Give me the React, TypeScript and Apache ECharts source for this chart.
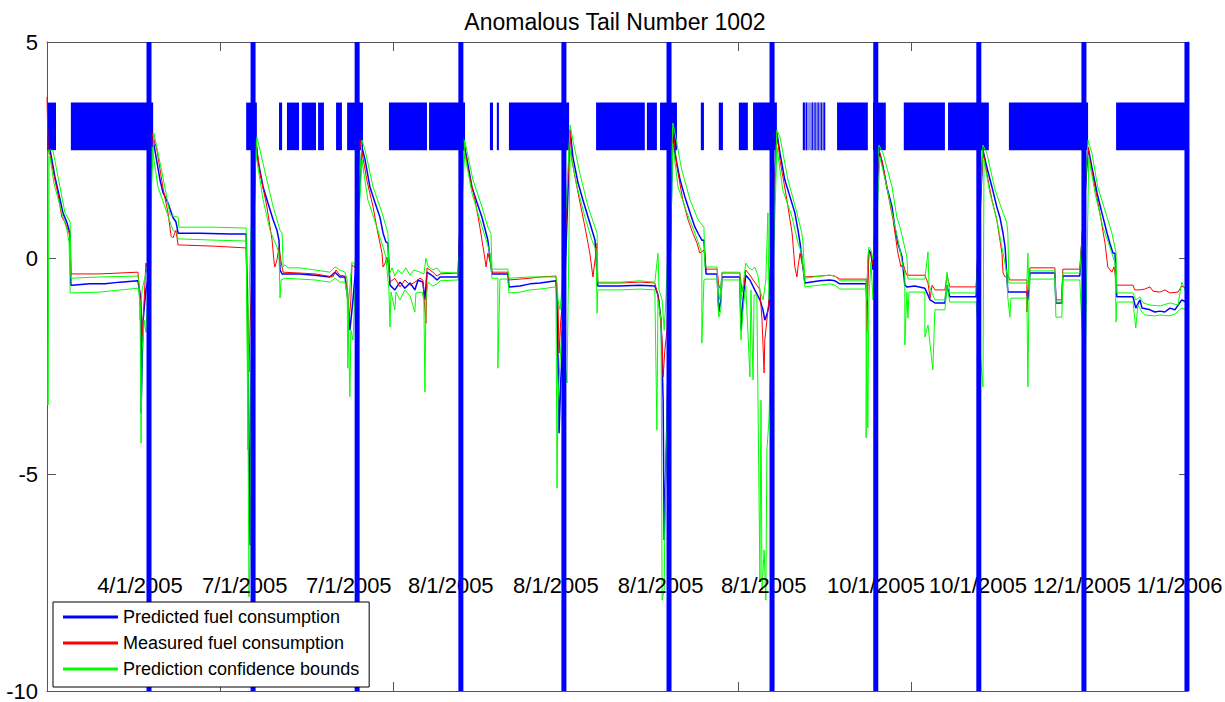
import React, { useEffect, useRef } from "react";
import * as echarts from "echarts";

const FONT = "'Liberation Sans', Arial, Helvetica, sans-serif";

const titleText = "Anomalous Tail Number 1002";
const seriesNames = ["Predicted fuel consumption", "Measured fuel consumption", "Prediction confidence bounds"];

const yTicks = { min: -10, max: 5, step: 5 };
const xRange = { min: 0, max: 3300, step: 500 };

// flight boundaries (sample index)
const boundaries = [295, 596, 897, 1197, 1495, 1799, 2097, 2397, 2695, 2999, 3297];

const dateLabels = ["4/1/2005", "7/1/2005", "7/1/2005", "8/1/2005", "8/1/2005", "8/1/2005", "8/1/2005", "10/1/2005", "10/1/2005", "12/1/2005", "1/1/2006"];
const dateLabelX = [145, 448, 749, 1044, 1348, 1651, 1949, 2256, 2551, 2852, 3152];
const dateLabelY = -7.56;

const anomalyBand = [2.5, 3.6];
const anomalySpans = [
  [0, 26], [69, 307], [576, 607], [671, 680], [694, 729], [737, 778], [784, 801], [836, 853], [868, 914],
  [989, 1099], [1105, 1209], [1281, 1290], [1301, 1307], [1336, 1510], [1588, 1729], [1735, 1764], [1773, 1822],
  [1891, 1900], [1943, 1955], [2001, 2027], [2042, 2111], [2285, 2374], [2389, 2426], [2478, 2597], [2606, 2724],
  [2782, 3011], [3092, 3300],
];
const faintSpans = [[2186, 2252]];
const stripeSpans = [[2186, 2192], [2195, 2198], [2212, 2215], [2220, 2223], [2229, 2232], [2238, 2241], [2246, 2250]];

const predicted = [
  [3, 2.5], [9, 2.5], [23, 1.88], [38, 1.35], [46, 1.05], [58, 0.82], [64, 0.65], [67, 0.58], [69, -0.62], [72, -0.62], [124, -0.59], [168, -0.59], [211, -0.55], [263, -0.52], [272, -0.96], [272, -3.58], [278, -1.43], [286, -0.73], [292, -0.5],
  [304, 2.8], [307, 2.73], [327, 1.81], [335, 1.53], [350, 1.28], [364, 0.95], [373, 0.84], [376, 0.72], [379, 0.58], [442, 0.58], [529, 0.56], [576, 0.56], [581, -1.66], [587, -6.63], [590, -3.28], [593, -0.96],
  [604, 2.73], [610, 2.27], [625, 1.65], [639, 1.28], [654, 0.89], [665, 0.65], [671, 0.42], [674, -0.27], [680, -0.36], [732, -0.36], [775, -0.39], [818, -0.43], [833, -0.32], [847, -0.43], [862, -0.43], [870, -0.96], [876, -1.66], [885, -0.96], [891, -0.39],
  [911, 2.57], [920, 2.27], [934, 1.65], [949, 1.28], [963, 0.95], [972, 0.58], [980, 0.38], [986, 0.35], [992, -0.62], [1006, -0.73], [1021, -0.55], [1035, -0.69], [1050, -0.57], [1064, -0.73], [1073, -0.5], [1087, -0.55], [1093, -0.96], [1099, -0.32], [1116, -0.41], [1128, -0.5], [1137, -0.43], [1189, -0.43],
  [1203, 2.8], [1215, 2.27], [1229, 1.65], [1244, 1.28], [1258, 0.95], [1270, 0.58], [1275, 0.42], [1287, -0.36], [1333, -0.36], [1336, -0.66], [1368, -0.64], [1397, -0.59], [1426, -0.57], [1472, -0.52], [1475, -0.96], [1478, -2.35], [1481, -4.04], [1486, -2.81], [1492, -1.89],
  [1513, 2.97], [1521, 2.34], [1536, 1.74], [1550, 1.35], [1565, 0.95], [1579, 0.58], [1585, 0.42], [1593, -0.64], [1657, -0.64], [1715, -0.62], [1758, -0.64], [1767, -0.85], [1776, -1.43], [1782, -3.28], [1785, -6.51], [1787, -5.82], [1793, -3.74],
  [1810, 3.03], [1816, 2.43], [1831, 1.81], [1845, 1.42], [1860, 1.05], [1874, 0.72], [1883, 0.58], [1894, 0.42], [1900, 0.42], [1906, -0.36], [1938, -0.36], [1943, -1.24], [1949, -0.96], [1952, -0.43], [2004, -0.43], [2007, -1.66], [2013, -0.96], [2021, -0.39], [2033, -0.5], [2047, -0.73], [2062, -0.96], [2071, -1.2], [2076, -1.43], [2082, -1.3], [2088, -1.1],
  [2111, 2.9], [2120, 2.43], [2134, 1.81], [2149, 1.42], [2163, 1.05], [2172, 0.65], [2178, 0.35], [2192, -0.57], [2235, -0.52], [2264, -0.5], [2279, -0.52], [2293, -0.59], [2322, -0.59], [2369, -0.59], [2371, -0.96], [2374, -0.27], [2377, 0.19], [2383, 0.12], [2389, -0.27],
  [2406, 2.5], [2418, 2.11], [2429, 1.65], [2444, 1.19], [2452, 0.72], [2461, 0.35], [2473, 0.03], [2481, -0.62], [2487, -0.66], [2510, -0.64], [2539, -0.69], [2548, -0.85], [2554, -0.96], [2568, -1.03], [2597, -1.03], [2603, -0.62], [2611, -0.89], [2640, -0.89], [2687, -0.89],
  [2707, 2.5], [2718, 2.11], [2733, 1.65], [2747, 1.19], [2756, 0.95], [2765, 0.58], [2771, 0.26], [2779, -0.78], [2834, -0.78], [2837, -0.96], [2843, -0.34], [2915, -0.34], [2918, -1.03], [2935, -1.03], [2938, -0.41], [2987, -0.41],
  [3011, 2.57], [3022, 2.11], [3037, 1.51], [3051, 1.05], [3066, 0.58], [3074, 0.35], [3083, 0.12], [3089, 0.12], [3094, -0.89], [3141, -0.89], [3149, -1.15], [3161, -0.96], [3167, -1.15], [3190, -1.19], [3204, -1.24], [3219, -1.22], [3233, -1.24], [3248, -1.15], [3262, -1.19], [3282, -0.96], [3294, -1.01],
];

const measured = [
  [0, 3.73], [3, 2.5], [9, 2.39], [23, 1.81], [32, 1.47], [43, 0.95], [52, 0.84], [64, 0.58], [67, 0.47], [69, -0.36], [153, -0.36], [263, -0.32], [269, -0.85], [275, -1.84], [281, -0.96], [286, -0.11], [292, -0.27],
  [304, 2.9], [318, 2.5], [335, 1.65], [350, 1.05], [359, 0.51], [364, 0.47], [373, 0.65], [379, 0.31], [486, 0.28], [576, 0.24], [578, -0.73], [581, -1.19], [584, -2.63], [587, -1.66],
  [604, 2.73], [616, 1.97], [636, 1.19], [651, 0.42], [657, -0.11], [659, -0.2], [665, -0.04], [671, 0.26], [677, -0.08], [683, -0.32], [732, -0.34], [775, -0.36], [827, -0.43], [836, -0.27], [847, -0.39], [862, -0.41], [870, -0.8], [873, -1.47], [879, -0.96], [882, -0.15], [891, -0.22],
  [905, 2.73], [925, 1.81], [943, 1.19], [957, 0.58], [969, 0.12], [972, -0.2], [978, -0.11], [983, 0.03], [989, -0.27], [992, -0.55], [1006, -0.46], [1021, -0.66], [1035, -0.5], [1050, -0.62], [1064, -0.55], [1079, -0.46], [1087, -0.5], [1093, -1.19], [1096, -1.5], [1099, -0.22], [1116, -0.32], [1128, -0.41], [1137, -0.36], [1189, -0.34],
  [1203, 2.8], [1218, 2.04], [1238, 1.35], [1252, 0.72], [1264, 0.12], [1270, -0.2], [1275, 0.12], [1284, -0.15], [1287, -0.32], [1333, -0.32], [1336, -0.5], [1368, -0.48], [1397, -0.46], [1426, -0.43], [1472, -0.41], [1478, -1.08], [1481, -2.19], [1486, -1.43], [1492, -0.96],
  [1513, 2.97], [1518, 2.27], [1536, 1.51], [1556, 0.72], [1570, 0.12], [1579, -0.43], [1585, -0.04], [1591, 0.35], [1593, -0.57], [1657, -0.57], [1715, -0.55], [1758, -0.57], [1770, -0.96], [1779, -1.89], [1782, -2.74], [1787, -2.12], [1793, -1.66],
  [1810, 3.03], [1822, 2.11], [1839, 1.35], [1854, 0.89], [1868, 0.58], [1880, 0.35], [1888, 0.12], [1900, 0.19], [1906, -0.25], [1938, -0.25], [1943, -0.62], [1949, -0.73], [1952, -0.34], [2004, -0.34], [2010, -0.78], [2016, -0.62], [2021, -0.27], [2033, -0.39], [2047, -0.55], [2053, -0.62], [2062, -0.73], [2068, -1.43], [2074, -2.65], [2076, -1.89], [2082, -1.43], [2088, -0.96],
  [2111, 2.9], [2120, 2.27], [2140, 1.35], [2155, 0.58], [2163, -0.2], [2169, -0.43], [2172, -0.2], [2178, 0.12], [2192, -0.43], [2235, -0.41], [2264, -0.39], [2279, -0.41], [2293, -0.48], [2369, -0.48], [2371, -1.26], [2371, -1.73], [2374, -0.73], [2377, 0.15], [2383, 0.08], [2389, -0.15],
  [2406, 2.5], [2415, 2.27], [2432, 1.51], [2447, 0.89], [2461, 0.12], [2470, -0.2], [2476, -0.11], [2481, -0.27], [2487, -0.39], [2539, -0.39], [2548, -0.57], [2554, -0.92], [2560, -0.62], [2568, -0.73], [2597, -0.73], [2603, -0.39], [2611, -0.66], [2687, -0.66],
  [2707, 2.5], [2718, 1.97], [2733, 1.35], [2747, 0.89], [2762, 0.12], [2765, -0.34], [2771, -0.43], [2779, -0.39], [2785, -0.5], [2834, -0.5], [2834, -1.24], [2837, -0.73], [2843, -0.22], [2915, -0.22], [2918, -0.96], [2935, -0.96], [2938, -0.25], [2987, -0.25],
  [3011, 2.57], [3016, 2.27], [3031, 1.65], [3045, 1.05], [3060, 0.35], [3068, -0.2], [3080, -0.32], [3086, -0.2], [3094, -0.62], [3141, -0.62], [3146, -0.73], [3161, -0.73], [3175, -0.71], [3190, -0.66], [3199, -0.76], [3219, -0.78], [3233, -0.73], [3248, -0.8], [3271, -0.78], [3282, -0.64], [3294, -0.69],
];

const upperBound = [
  [3, 2.5], [17, 2.5], [32, 1.88], [52, 1.05], [67, 0.84], [69, -0.46], [153, -0.43], [263, -0.41], [266, -0.57], [269, -1.43], [275, -0.73], [286, -0.34], [292, -0.15],
  [309, 2.9], [333, 1.97], [356, 1.0], [379, 0.95], [382, 0.72], [486, 0.72], [576, 0.7], [578, -0.96], [581, -4.43], [584, -0.96], [590, 0.65],
  [607, 2.8], [616, 2.5], [636, 1.81], [654, 1.19], [674, 0.65], [680, 0.58], [683, -0.2], [688, -0.15], [697, -0.22], [732, -0.22], [775, -0.27], [818, -0.32], [833, -0.2], [847, -0.27], [862, -0.32], [868, -0.5], [870, -2.54], [873, -0.96], [882, -0.08], [891, -0.15],
  [911, 2.73], [920, 2.5], [943, 1.65], [969, 1.05], [986, 0.58], [989, -0.39], [998, -0.22], [1006, -0.41], [1015, -0.27], [1027, -0.36], [1038, -0.22], [1050, -0.39], [1061, -0.27], [1079, -0.32], [1090, -0.36], [1096, 0.0], [1102, -0.18], [1116, -0.27], [1128, -0.22], [1137, -0.32], [1189, -0.34],
  [1208, 2.73], [1232, 1.81], [1258, 1.19], [1275, 0.72], [1284, 0.58], [1287, -0.25], [1333, -0.25], [1336, -0.46], [1397, -0.43], [1472, -0.43], [1475, -0.57], [1478, -0.96], [1484, -1.19], [1489, -0.73],
  [1513, 3.08], [1521, 2.73], [1541, 1.97], [1565, 1.19], [1585, 0.72], [1591, 0.58], [1593, -0.55], [1657, -0.55], [1715, -0.52], [1758, -0.55], [1764, -0.11], [1767, 0.12], [1770, -0.73], [1779, -0.96], [1785, -1.66], [1790, -0.96],
  [1810, 3.13], [1816, 2.9], [1836, 2.04], [1860, 1.35], [1883, 0.89], [1900, 0.72], [1903, -0.2], [1938, -0.2], [1941, -0.73], [1946, -0.96], [1952, -0.32], [2004, -0.32], [2007, -0.96], [2013, -0.62], [2021, -0.11], [2030, -0.22], [2039, -0.27], [2047, -0.2], [2056, -0.39], [2062, -0.73], [2071, -0.96], [2079, -0.5], [2085, 1.05], [2088, -0.96], [2094, -0.73],
  [2111, 2.97], [2120, 2.8], [2143, 1.81], [2169, 1.05], [2183, 0.58], [2186, 0.42], [2192, -0.46], [2235, -0.41], [2264, -0.39], [2279, -0.41], [2293, -0.52], [2369, -0.52], [2371, -0.96], [2374, -0.04], [2377, 0.26], [2383, 0.19], [2389, -0.04],
  [2406, 2.62], [2418, 2.43], [2444, 1.65], [2458, 0.95], [2467, 0.72], [2476, 0.42], [2487, 0.03], [2490, -0.48], [2539, -0.48], [2548, 0.15], [2551, -0.62], [2568, -0.96], [2597, -0.96], [2603, -0.32], [2611, -0.8], [2687, -0.8],
  [2707, 2.62], [2718, 2.43], [2742, 1.58], [2762, 1.12], [2776, 0.82], [2779, 0.58], [2782, -0.57], [2834, -0.57], [2837, 0.12], [2840, -0.73], [2843, -0.29], [2915, -0.29], [2918, -1.01], [2935, -1.01], [2938, -0.34], [2987, -0.34],
  [3011, 2.73], [3022, 2.43], [3039, 1.65], [3066, 0.95], [3080, 0.58], [3092, 0.12], [3094, -0.8], [3141, -0.8], [3149, -0.96], [3161, -0.89], [3170, -1.03], [3190, -1.08], [3219, -1.1], [3248, -1.03], [3271, -1.08], [3282, -0.55], [3294, -0.78],
];

const lowerBound = [
  [3, 2.5], [3, -3.39], [6, 2.34], [9, 2.34], [20, 1.74], [43, 1.05], [58, 0.65], [64, 0.35], [67, -0.8], [153, -0.78], [263, -0.69], [269, -0.96], [272, -4.27], [275, -2.12], [281, -1.43], [286, -1.71], [292, -0.73],
  [298, -1.66], [304, 2.57], [321, 1.65], [347, 1.05], [364, 0.65], [376, 0.58], [379, 0.45], [486, 0.42], [576, 0.4], [581, -3.28], [584, -7.83], [587, -6.97], [590, -3.28], [593, -0.96],
  [604, 2.5], [607, 2.27], [625, 1.35], [645, 0.65], [665, 0.26], [671, 0.12], [674, -0.92], [677, -0.5], [688, -0.46], [732, -0.48], [775, -0.5], [818, -0.55], [833, -0.46], [847, -0.55], [862, -0.55], [870, -0.96], [876, -3.2], [879, -1.66], [885, -1.89], [891, -0.73],
  [911, 2.27], [928, 1.35], [954, 0.72], [972, 0.26], [980, 0.03], [989, -0.73], [992, -1.59], [995, -0.78], [1006, -1.19], [1009, -0.78], [1021, -0.96], [1035, -0.73], [1050, -0.87], [1064, -1.24], [1067, -0.8], [1085, -0.78], [1090, -0.96], [1093, -3.09], [1096, -0.96], [1102, -0.55], [1116, -0.64], [1128, -0.59], [1137, -0.52], [1189, -0.5],
  [1208, 2.43], [1229, 1.51], [1252, 0.89], [1273, 0.35], [1281, 0.12], [1287, -0.46], [1304, -0.46], [1304, -2.54], [1310, -0.48], [1333, -0.48], [1336, -0.8], [1368, -0.78], [1397, -0.73], [1426, -0.71], [1472, -0.66], [1475, -5.31], [1478, -3.28], [1484, -2.35], [1489, -1.66],
  [1504, -2.88], [1513, 2.5], [1533, 1.65], [1556, 0.95], [1576, 0.42], [1588, 0.19], [1591, -1.27], [1593, -0.73], [1657, -0.73], [1715, -0.71], [1758, -0.73], [1764, -3.97], [1767, -0.96], [1776, -1.43], [1779, -7.9], [1785, -7.67], [1787, -6.05], [1793, -3.74],
  [1810, 2.66], [1825, 1.65], [1851, 1.05], [1874, 0.58], [1894, 0.12], [1894, -1.96], [1900, -0.5], [1906, -0.48], [1938, -0.48], [1943, -1.36], [1949, -1.19], [1952, -0.5], [2004, -0.5], [2007, -1.89], [2013, -1.19], [2021, -0.62], [2033, -2.74], [2036, -0.73], [2042, -2.81], [2045, -0.85], [2053, -0.85], [2062, -7.44], [2065, -3.28], [2068, -7.67], [2074, -6.74], [2079, -7.9], [2082, -4.43], [2088, -3.74], [2094, -2.12],
  [2111, 2.57], [2128, 1.58], [2155, 0.95], [2172, 0.35], [2183, 0.12], [2192, -0.66], [2235, -0.62], [2264, -0.59], [2279, -0.62], [2293, -0.71], [2369, -0.71], [2369, -4.15], [2371, -1.66], [2374, -3.92], [2377, -0.96], [2383, -0.08], [2389, -0.96],
  [2409, 2.34], [2429, 1.65], [2447, 0.95], [2467, 0.19], [2476, -0.2], [2481, -0.34], [2481, -2.0], [2487, -0.78], [2490, -1.38], [2493, -0.78], [2539, -0.78], [2539, -1.82], [2548, -1.54], [2562, -2.58], [2568, -1.19], [2597, -1.19], [2603, -0.62], [2611, -1.01], [2687, -1.01],
  [2707, -2.97], [2710, 2.27], [2727, 1.51], [2747, 0.89], [2765, 0.12], [2776, -0.34], [2779, -0.92], [2785, -1.36], [2788, -0.92], [2834, -0.92], [2837, -2.97], [2840, -0.96], [2843, -0.48], [2915, -0.48], [2918, -1.36], [2935, -1.36], [2938, -0.5], [2987, -0.5],
  [3002, -2.97], [3013, 2.34], [3031, 1.51], [3054, 0.72], [3074, 0.26], [3089, -0.11], [3092, -1.47], [3094, -1.01], [3141, -1.01], [3149, -1.61], [3155, -1.08], [3167, -1.24], [3175, -1.31], [3204, -1.33], [3219, -1.31], [3248, -1.33], [3262, -1.29], [3282, -1.15], [3294, -1.19],
];

const BLUE = "#0000ff";
const RED = "#ff0000";
const GREEN = "#00ff00";
const AXIS = "#555555";

export default function App() {
  const ref = useRef<HTMLDivElement>(null);

  useEffect(() => {
    if (!ref.current) return;
    const chart = echarts.init(ref.current, null, { renderer: "svg" });

    const spanRender = (color: string) => (params: any, api: any) => {
      const p0 = api.coord([api.value(0), api.value(3)]);
      const p1 = api.coord([api.value(1), api.value(2)]);
      return {
        type: "rect",
        shape: { x: p0[0], y: p0[1], width: Math.max(1, p1[0] - p0[0]), height: p1[1] - p0[1] },
        style: { fill: color },
      };
    };

    const axisCommon = {
      axisLine: { show: true, onZero: false, lineStyle: { color: AXIS, width: 1 } },
      axisTick: { show: true, inside: true, length: 9, lineStyle: { color: AXIS } },
      splitLine: { show: false },
    };

    const option: any = {
      animation: false,
      backgroundColor: "#ffffff",
      title: {
        text: titleText,
        left: 615,
        top: 10,
        textAlign: "center",
        padding: 0,
        textStyle: { fontFamily: FONT, fontSize: 23, fontWeight: "normal", color: "#000" },
      },
      legend: {
        data: seriesNames,
        orient: "vertical",
        left: 53,
        top: 602,
        z: 10,
        icon: "rect",
        itemWidth: 55,
        itemHeight: 3,
        itemGap: 6,
        padding: [5, 10, 8, 10],
        backgroundColor: "#ffffff",
        borderColor: "#000000",
        borderWidth: 1,
        borderRadius: 0,
        selectedMode: false,
        textStyle: { fontFamily: FONT, fontSize: 18, color: "#000", lineHeight: 20 },
      },
      grid: { left: 47, right: 37, top: 42, bottom: 11, containLabel: false },
      xAxis: [
        { type: "value", position: "bottom", min: xRange.min, max: xRange.max, interval: xRange.step, axisLabel: { show: false }, ...axisCommon },
        { type: "value", position: "top", min: xRange.min, max: xRange.max, interval: xRange.step, axisLabel: { show: false }, ...axisCommon },
      ],
      yAxis: [
        {
          type: "value", position: "left", min: yTicks.min, max: yTicks.max, interval: yTicks.step,
          axisLabel: { show: true, margin: 9, fontFamily: FONT, fontSize: 22, color: "#000", padding: [6, 0, 0, 0] },
          ...axisCommon,
        },
        { type: "value", position: "right", min: yTicks.min, max: yTicks.max, interval: yTicks.step, axisLabel: { show: false }, ...axisCommon },
      ],
      series: [
        {
          type: "custom", name: "anomalyFaint", silent: true, z: 1,
          renderItem: spanRender("#8f8fe0"),
          encode: { x: [0, 1], y: [2, 3] },
          data: faintSpans.map(([a, b]) => [a, b, anomalyBand[0], anomalyBand[1]]),
        },
        {
          type: "custom", name: "anomaly", silent: true, z: 1,
          renderItem: spanRender(BLUE),
          encode: { x: [0, 1], y: [2, 3] },
          data: anomalySpans.concat(stripeSpans).map(([a, b]) => [a, b, anomalyBand[0], anomalyBand[1]]),
        },
        {
          type: "line", name: seriesNames[0], data: predicted, showSymbol: false, symbol: "none", z: 2,
          lineStyle: { color: BLUE, width: 1.5 }, itemStyle: { color: BLUE },
        },
        {
          type: "line", name: seriesNames[1], data: measured, showSymbol: false, symbol: "none", z: 2,
          lineStyle: { color: RED, width: 1 }, itemStyle: { color: RED },
        },
        {
          type: "line", name: seriesNames[2], data: upperBound, showSymbol: false, symbol: "none", z: 2,
          lineStyle: { color: GREEN, width: 1 }, itemStyle: { color: GREEN },
        },
        {
          type: "line", name: seriesNames[2], data: lowerBound, showSymbol: false, symbol: "none", z: 2,
          lineStyle: { color: GREEN, width: 1 }, itemStyle: { color: GREEN },
        },
        {
          type: "custom", name: "dates", silent: true, z: 3,
          encode: { x: 0, y: 1 },
          data: dateLabelX.map((x) => [x, dateLabelY]),
          renderItem: (params: any, api: any) => {
            const p = api.coord([api.value(0), api.value(1)]);
            return {
              type: "text",
              x: p[0],
              y: p[1],
              style: {
                text: dateLabels[params.dataIndex],
                fill: "#000",
                fontFamily: FONT,
                fontSize: 22,
                align: "left",
                verticalAlign: "middle",
                textAlign: "left",
                textVerticalAlign: "middle",
              },
            };
          },
        },
        {
          type: "custom", name: "boundaries", silent: true, z: 4,
          encode: { x: 0 },
          data: boundaries.map((b) => [b]),
          renderItem: (params: any, api: any) => {
            const top = api.coord([api.value(0), yTicks.max]);
            const bot = api.coord([api.value(0), yTicks.min]);
            return {
              type: "line",
              shape: { x1: top[0], y1: top[1], x2: bot[0], y2: bot[1] },
              style: { stroke: BLUE, lineWidth: 5 },
            };
          },
        },
      ],
    };

    chart.setOption(option);
    return () => chart.dispose();
  }, []);

  return (
    <div
      ref={ref}
      style={{ position: "fixed", left: 0, top: 0, width: 1225, height: 702, background: "#fff" }}
    />
  );
}
